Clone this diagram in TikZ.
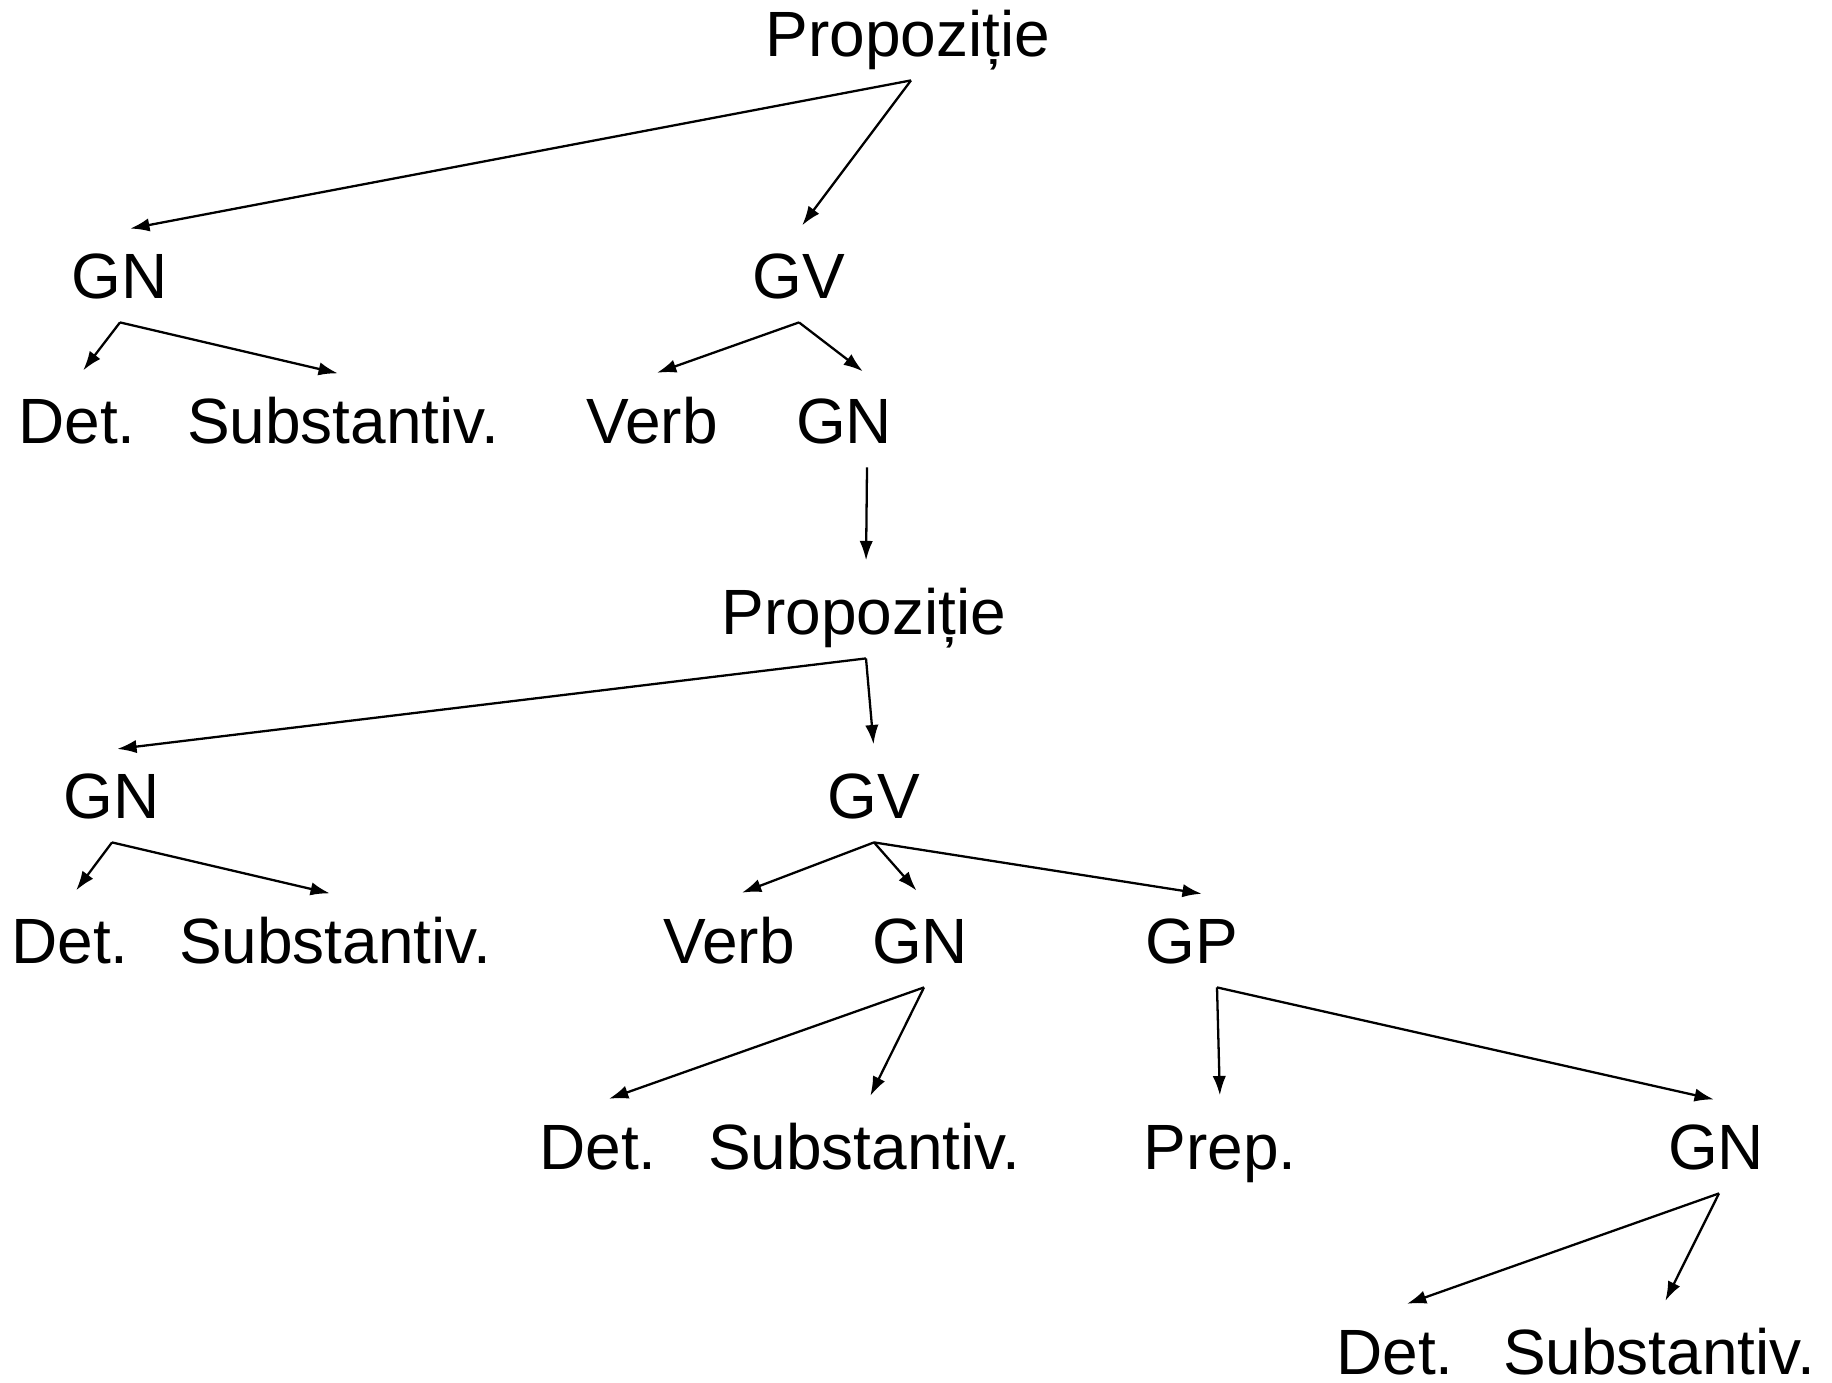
\documentclass[tikz,border=0pt]{standalone}
\usepackage{fontspec}
\setmainfont{Liberation Sans}
\usetikzlibrary{arrows.meta}

\begin{document}
\begin{tikzpicture}[x=0.01cm, y=-0.01cm,
		lbl/.style={font=\fontsize{18.2}{22}\selectfont, text height=13pt, text depth=0pt, inner xsep=1pt, inner ysep=6.5pt},
		arr/.style={line width=0.65pt, -{Latex[length=5.5pt,width=3.8pt]}, shorten >=1.5pt}]
				\useasboundingbox (0, 0) rectangle (1832, 1383);
				\node[lbl] (prop1) at (908, 34) {Propoziție};
				\node[lbl] (gn1) at (120, 276) {GN};
				\node[lbl] (gv1) at (799, 276) {GV};
				\node[lbl] (det1) at (77, 421) {Det.};
				\node[lbl] (subst1) at (343, 421) {Substantiv.};
				\node[lbl] (verb1) at (652, 421) {Verb};
				\node[lbl] (gnv1) at (844, 421) {GN};
				\node[lbl] (prop2) at (864, 612) {Propoziție};
				\node[lbl] (gn2) at (112, 796) {GN};
				\node[lbl] (gv2) at (874, 796) {GV};
				\node[lbl] (det2) at (70, 941) {Det.};
				\node[lbl] (subst2) at (335, 941) {Substantiv.};
				\node[lbl] (verb2) at (729, 941) {Verb};
				\node[lbl] (gnv2) at (920, 941) {GN};
				\node[lbl] (gp) at (1192, 941) {GP};
				\node[lbl] (det3) at (598, 1147) {Det.};
				\node[lbl] (subst3) at (864, 1147) {Substantiv.};
				\node[lbl] (prep) at (1220, 1147) {Prep.};
				\node[lbl] (gnp) at (1716, 1147) {GN};
				\node[lbl] (det4) at (1395, 1352) {Det.};
				\node[lbl] (subst4) at (1659, 1352) {Substantiv.};
				\draw[arr] ([xshift=0.3mm]prop1.south) -- ([xshift=0.5mm]gn1.north);
				\draw[arr] ([xshift=0.3mm]prop1.south) -- (gv1.north);
				\draw[arr] (gn1.south) -- ([xshift=0.3mm]det1.north);
				\draw[arr] (gn1.south) -- (subst1.north);
				\draw[arr] (gv1.south) -- (verb1.north);
				\draw[arr] (gv1.south) -- ([xshift=2.3mm]gnv1.north);
				\draw[arr] ([xshift=2.3mm]gnv1.south) -- ([xshift=0.2mm]prop2.north);
				\draw[arr] ([xshift=0.2mm]prop2.south) -- (gn2.north);
				\draw[arr] ([xshift=0.2mm]prop2.south) -- (gv2.north);
				\draw[arr] (gn2.south) -- ([xshift=0.3mm]det2.north);
				\draw[arr] (gn2.south) -- (subst2.north);
				\draw[arr] (gv2.south) -- ([xshift=0.8mm]verb2.north);
				\draw[arr] (gv2.south) -- (gnv2.north);
				\draw[arr] (gv2.south) -- ([xshift=1.5mm]gp.north);
				\draw[arr] ([xshift=0.4mm]gnv2.south) -- ([xshift=0.6mm]det3.north);
				\draw[arr] ([xshift=0.4mm]gnv2.south) -- ([xshift=0.4mm]subst3.north);
				\draw[arr] ([xshift=2.5mm]gp.south) -- (prep.north);
				\draw[arr] ([xshift=2.5mm]gp.south) -- ([xshift=0.3mm]gnp.north);
				\draw[arr] ([xshift=0.3mm]gnp.south) -- ([xshift=0.7mm]det4.north);
				\draw[arr] ([xshift=0.3mm]gnp.south) -- ([xshift=0.4mm]subst4.north);
			\end{tikzpicture}
\end{document}
